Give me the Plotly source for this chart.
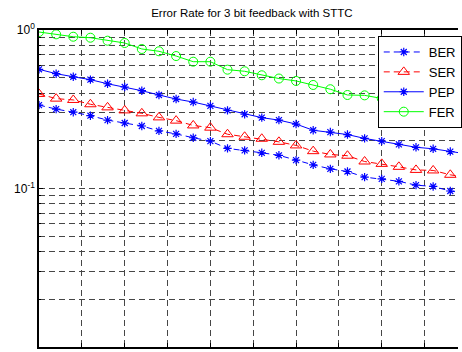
import plotly.graph_objects as go

x = list(range(26))
ber = [0.336, 0.317, 0.303, 0.288, 0.270, 0.259, 0.248, 0.231, 0.221, 0.209,
       0.199, 0.179, 0.174, 0.168, 0.162, 0.151, 0.141, 0.133, 0.128, 0.118,
       0.115, 0.111, 0.105, 0.103, 0.0964, 0.093]
ser = [0.395, 0.369, 0.362, 0.340, 0.325, 0.311, 0.298, 0.281, 0.268, 0.250,
       0.242, 0.220, 0.212, 0.206, 0.197, 0.187, 0.172, 0.164, 0.161, 0.148,
       0.143, 0.137, 0.131, 0.130, 0.122, 0.117]
pep = [0.565, 0.530, 0.507, 0.486, 0.458, 0.437, 0.414, 0.389, 0.367, 0.351,
       0.332, 0.311, 0.294, 0.280, 0.270, 0.255, 0.233, 0.227, 0.219, 0.207,
       0.199, 0.190, 0.182, 0.178, 0.171, 0.165]
fer = [0.971, 0.939, 0.907, 0.894, 0.856, 0.828, 0.759, 0.734, 0.685, 0.631,
       0.631, 0.562, 0.549, 0.518, 0.494, 0.477, 0.450, 0.423, 0.389, 0.387,
       0.370, 0.355, 0.340, 0.325, 0.310, 0.300]

names = ["BER", "SER", "PEP", "FER"]
ytick_vals = [1, 0.1, 0.01]
ytick_text = ["10<sup>0</sup>", "10<sup>-1</sup>", "10<sup>-2</sup>"]
minor_vals = [k * 10.0 ** e for e in (-2, -1) for k in range(2, 10)]

FONT = "Liberation Sans, Arial, sans-serif"
GRID = "rgb(70,70,70)"
DASH = "6px,4px"

fig = go.Figure()
fig.add_trace(go.Scatter(x=x, y=ber, name=names[0], mode="lines+markers",
                         line=dict(color="#0000ff", width=1, dash=DASH),
                         marker=dict(symbol="asterisk-open", size=7,
                                     line=dict(color="#0000ff", width=1.2))))
fig.add_trace(go.Scatter(x=x, y=ser, name=names[1], mode="lines+markers",
                         line=dict(color="#ff0000", width=1, dash=DASH),
                         marker=dict(symbol="triangle-up-open", size=10, color="#ff0000",
                                     line=dict(color="#ff0000", width=1))))
fig.add_trace(go.Scatter(x=x, y=pep, name=names[2], mode="lines+markers",
                         line=dict(color="#0000ff", width=1),
                         marker=dict(symbol="asterisk-open", size=7,
                                     line=dict(color="#0000ff", width=1.2))))
fig.add_trace(go.Scatter(x=x, y=fer, name=names[3], mode="lines+markers",
                         line=dict(color="#00ff00", width=1),
                         marker=dict(symbol="circle-open", size=9, color="#00ff00",
                                     line=dict(color="#00ff00", width=1))))

fig.update_layout(
    width=462, height=352,
    margin=dict(l=39, r=0, t=30, b=5),
    paper_bgcolor="white", plot_bgcolor="white",
    font=dict(family=FONT, size=12, color="black"),
    title=dict(text="Error Rate for 3 bit feedback with STTC", x=0.508, xref="paper",
               xanchor="center", y=1, yref="container", yanchor="top", pad=dict(t=9),
               font=dict(family=FONT, size=11.5, color="black")),
    showlegend=True,
    legend=dict(x=0.8085, y=0.981, xanchor="left", yanchor="top",
                bgcolor="white", bordercolor="black", borderwidth=1,
                font=dict(family=FONT, size=13, color="black"),
                itemwidth=40, tracegroupgap=0),
    xaxis=dict(range=[0, 24.45], tick0=0, dtick=2.5, showticklabels=False,
               ticks="inside", ticklen=4, tickcolor="black",
               showline=True, linecolor="black", linewidth=1.5, mirror="ticks",
               showgrid=True, gridcolor=GRID, gridwidth=1, griddash=DASH,
               zeroline=False),
    yaxis=dict(type="log", range=[-2, 0], tickvals=ytick_vals, ticktext=ytick_text,
               ticks="inside", ticklen=4, tickcolor="black",
               showline=True, linecolor="black", linewidth=1.5, mirror=False,
               showgrid=True, gridcolor=GRID, gridwidth=1, griddash=DASH,
               tickfont=dict(family=FONT, size=12, color="black"),
               minor=dict(tickvals=minor_vals, ticks="inside", ticklen=2,
                          tickcolor="black", showgrid=True, gridcolor=GRID,
                          gridwidth=1, griddash=DASH),
               zeroline=False),
)

fig.write_html("out.html")
